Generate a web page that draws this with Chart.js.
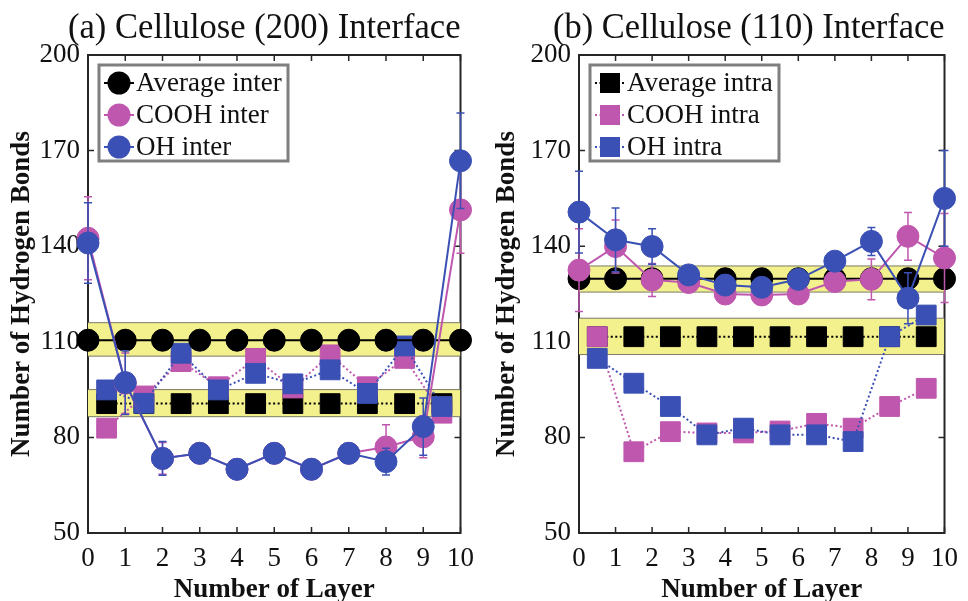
<!DOCTYPE html>
<html>
<head>
<meta charset="utf-8">
<script src="https://cdn.jsdelivr.net/npm/chart.js@4.4.1/dist/chart.umd.min.js"></script>
<style>
  body { margin: 0; background: #fff; }
  .wrap { display: flex; width: 968px; height: 601px; }
  canvas { display: block; }
</style>
</head>
<body>
<div class="wrap">
  <canvas id="chartA" width="484" height="601"></canvas>
  <canvas id="chartB" width="484" height="601"></canvas>
</div>
<script>
// x positions: circles sit on layers, squares between layers
const layers = [0, 1, 2, 3, 4, 5, 6, 7, 8, 9, 10];
const halfLayers = [0.5, 1.5, 2.5, 3.5, 4.5, 5.5, 6.5, 7.5, 8.5, 9.5];
const yTicks = [50, 80, 110, 140, 170, 200];

// (a) Cellulose (200)
const avgInterA = [110.5, 110.5, 110.5, 110.5, 110.5, 110.5, 110.5, 110.5, 110.5, 110.5, 110.5];
const avgIntraA = [90.6, 90.6, 90.6, 90.6, 90.6, 90.6, 90.6, 90.6, 90.6, 90.6];
const bandInterA = [105.5, 116];
const bandIntraA = [86.5, 95];
const coohInterA = [142.5, 97, 73.4, 75, 70, 75, 70, 75, 77, 80.2, 151.4];
const coohInterErrA = [13, 9.5, 5, 1, 1, 1, 1, 1, 7, 6.6, 13.6];
const ohInterA = [141, 97.2, 73.4, 75, 70, 75, 70, 75, 72.4, 83.4, 166.8];
const ohInterErrA = [12.6, 10, 5.3, 1, 1, 1, 1, 1, 4.2, 9, 15];
const coohIntraA = [82.9, 93, 103.8, 95.9, 104.8, 95.5, 105.9, 95.9, 104.8, 87.6];
const ohIntraA = [94.9, 90.7, 106.4, 94.9, 100.1, 96.8, 101.2, 93.8, 108.7, 89.7];

// (b) Cellulose (110)
const avgInterB = [129.8, 129.8, 129.8, 129.8, 129.8, 129.8, 129.8, 129.8, 129.8, 129.8, 129.8];
const avgIntraB = [111.6, 111.6, 111.6, 111.6, 111.6, 111.6, 111.6, 111.6, 111.6, 111.6];
const bandInterB = [125.6, 133.8];
const bandIntraB = [106, 117.4];
const coohInterB = [132.5, 139.9, 129.4, 128.6, 125, 124.7, 125, 128.9, 129.6, 143.1, 136.3];
const coohInterErrB = [13, 8.3, 5.2, 1, 1, 1, 1, 1, 6.4, 7.5, 14];
const ohInterB = [150.7, 142, 139.9, 131, 127.8, 127.1, 129.6, 135.3, 141.5, 123.7, 155];
const ohInterErrB = [12.8, 10, 5.6, 1, 1, 1, 1, 1.5, 4.4, 8, 15];
const coohIntraB = [111.6, 75.5, 81.8, 81.4, 81.4, 82, 84.4, 82.9, 89.7, 95.4];
const ohIntraB = [104.8, 97, 89.7, 80.8, 82.9, 80.8, 80.8, 78.7, 111.6, 118.4];

const PINK = '#bf57ae';
const BLUE = '#3b50b4';
const BLACK = '#000000';
const FONT = "'Liberation Serif', 'Times New Roman', serif";

const pts = (xs, ys) => xs.map((x, i) => ({ x: x, y: ys[i] }));

function series(label, xs, ys, color, shape, dotted, order, errors) {
    return {
        label: label,
        data: pts(xs, ys),
        errors: errors || null,
        inLegend: true,
        borderColor: color,
        backgroundColor: color,
        borderWidth: 2,
        borderDash: dotted ? [2, 2.5] : [],
        pointStyle: shape,
        pointRadius: shape === 'rect' ? 14 : 11,
        pointBorderWidth: 1,
        pointBorderColor: color,
        pointBackgroundColor: color,
        tension: 0,
        fill: false,
        clip: false,
        order: order
    };
}

// band = two edge lines, the upper one filled down to the lower one
function band(lims) {
    const edge = {
        borderColor: '#7a7a66',
        borderWidth: 1,
        pointRadius: 0,
        tension: 0,
        order: 20
    };
    return [
        Object.assign({ data: pts([0, 10], [lims[0], lims[0]]), fill: false }, edge),
        Object.assign({ data: pts([0, 10], [lims[1], lims[1]]), fill: '-1', backgroundColor: '#f3f08e' }, edge)
    ];
}

// vertical error bars, drawn just before the dataset so markers sit on top
const errorBars = {
    id: 'errorBars',
    beforeDatasetDraw(chart, args) {
        const ds = chart.data.datasets[args.index];
        if (!ds.errors) return;
        const ctx = chart.ctx, xs = chart.scales.x, ys = chart.scales.y;
        ctx.save();
        ctx.strokeStyle = ds.borderColor;
        ctx.lineWidth = 1.5;
        ds.data.forEach((p, i) => {
            const e = ds.errors[i];
            if (!e) return;
            const px = xs.getPixelForValue(p.x);
            const top = ys.getPixelForValue(p.y + e);
            const bot = ys.getPixelForValue(p.y - e);
            ctx.beginPath();
            ctx.moveTo(px, top); ctx.lineTo(px, bot);
            ctx.moveTo(px - 4, top); ctx.lineTo(px + 4, top);
            ctx.moveTo(px - 4, bot); ctx.lineTo(px + 4, bot);
            ctx.stroke();
        });
        ctx.restore();
    }
};

// top/right frame and inward tick marks like the original figure
const frame = {
    id: 'frame',
    beforeDatasetsDraw(chart) {
        const { ctx, chartArea: a, scales: { x, y } } = chart;
        ctx.save();
        ctx.strokeStyle = '#262626';
        ctx.lineWidth = 2;
        ctx.strokeRect(a.left, a.top, a.right - a.left, a.bottom - a.top);
        ctx.lineWidth = 1.5;
        ctx.beginPath();
        x.ticks.forEach(t => {
            const px = x.getPixelForValue(t.value);
            ctx.moveTo(px, a.bottom); ctx.lineTo(px, a.bottom - 6);
            ctx.moveTo(px, a.top); ctx.lineTo(px, a.top + 6);
        });
        y.ticks.forEach(t => {
            const py = y.getPixelForValue(t.value);
            ctx.moveTo(a.left, py); ctx.lineTo(a.left + 6, py);
            ctx.moveTo(a.right, py); ctx.lineTo(a.right - 6, py);
        });
        ctx.stroke();
        ctx.restore();
    }
};

// the figure's titles sit a little left of the plot centre
const titleShift = {
    id: 'titleShift',
    afterLayout(chart, args, opts) {
        chart.titleBlock.left -= 2 * opts.dx;
    }
};

// boxed legend in the top-left corner of the plot
const boxLegend = {
    id: 'boxLegend',
    afterDraw(chart) {
        const { ctx, chartArea: a } = chart;
        const items = chart.data.datasets.filter(d => d.inLegend)
            .sort((p, q) => q.order - p.order);
        const bx = a.left + 11, by = a.top + 10, bw = 189, bh = 96;
        ctx.save();
        ctx.fillStyle = '#fff';
        ctx.fillRect(bx, by, bw, bh);
        ctx.lineWidth = 3;
        ctx.strokeStyle = '#7f7f7f';
        ctx.strokeRect(bx, by, bw, bh);
        items.forEach((d, i) => {
            const cy = by + 18 + i * 32;
            const cx = bx + 20;
            ctx.strokeStyle = d.borderColor;
            ctx.lineWidth = 2;
            ctx.setLineDash(d.borderDash);
            ctx.beginPath();
            ctx.moveTo(bx + 5, cy); ctx.lineTo(bx + 35, cy);
            ctx.stroke();
            ctx.setLineDash([]);
            ctx.fillStyle = d.backgroundColor;
            ctx.beginPath();
            if (d.pointStyle === 'rect') ctx.rect(cx - 10, cy - 10, 20, 20);
            else ctx.arc(cx, cy, 11.5, 0, Math.PI * 2);
            ctx.fill();
            ctx.fillStyle = '#111';
            ctx.font = '27px ' + FONT;
            ctx.textBaseline = 'middle';
            ctx.textAlign = 'left';
            ctx.fillText(d.label, bx + 37, cy + 1);
        });
        ctx.restore();
    }
};

function makeChart(id, title, yWidth, padRight, yTitlePad, dx, sets) {
    return new Chart(document.getElementById(id), {
        type: 'line',
        data: { datasets: sets },
        plugins: [errorBars, frame, titleShift, boxLegend],
        options: {
            responsive: false,
            animation: false,
            events: [],
            layout: { padding: { left: 0, right: padRight, top: 0, bottom: 0 } },
            plugins: {
                legend: { display: false },
                tooltip: { enabled: false },
                titleShift: { dx: dx },
                title: {
                    display: true,
                    text: title,
                    fullSize: false,
                    color: '#111',
                    font: { family: FONT, size: 36, weight: 'normal', lineHeight: 1.15 },
                    padding: { top: 8, bottom: 5.6 }
                }
            },
            scales: {
                x: {
                    type: 'linear',
                    min: 0,
                    max: 10,
                    afterBuildTicks: s => { s.ticks = layers.map(v => ({ value: v })); },
                    afterFit: s => { s.height = 68; },
                    grid: { display: false, drawTicks: false },
                    border: { display: false },
                    ticks: { color: '#111', padding: 10, font: { family: FONT, size: 27 } },
                    title: {
                        display: true,
                        text: 'Number of Layer',
                        color: '#111',
                        padding: { top: 0, bottom: 0 },
                        font: { family: FONT, size: 27, weight: 'bold', lineHeight: 0.8 }
                    }
                },
                y: {
                    min: 50,
                    max: 200,
                    afterBuildTicks: s => { s.ticks = yTicks.map(v => ({ value: v })); },
                    afterFit: s => { s.width = yWidth; },
                    grid: { display: false, drawTicks: false },
                    border: { display: false },
                    ticks: { color: '#111', padding: 8, font: { family: FONT, size: 27 } },
                    title: {
                        display: true,
                        text: 'Number of Hydrogen Bonds',
                        color: '#111',
                        padding: { top: yTitlePad, bottom: 0 },
                        font: { family: FONT, size: 27, weight: 'bold', lineHeight: 1 }
                    }
                }
            }
        }
    });
}

makeChart('chartA', '(a) Cellulose (200) Interface', 88, 22, 9, 10, [
    series('Average inter', layers, avgInterA, BLACK, 'circle', false, 9),
    series('COOH inter', layers, coohInterA, PINK, 'circle', false, 8, coohInterErrA),
    series('OH inter', layers, ohInterA, BLUE, 'circle', false, 7, ohInterErrA),
    Object.assign(series('Average intra', halfLayers, avgIntraA, BLACK, 'rect', true, 12), { inLegend: false }),
    Object.assign(series('COOH intra', halfLayers, coohIntraA, PINK, 'rect', true, 11), { inLegend: false }),
    Object.assign(series('OH intra', halfLayers, ohIntraA, BLUE, 'rect', true, 10), { inLegend: false })
].concat(band(bandInterA), band(bandIntraA)));

makeChart('chartB', '(b) Cellulose (110) Interface', 95, 13, 10, 13, [
    Object.assign(series('Average inter', layers, avgInterB, BLACK, 'circle', false, 9), { inLegend: false }),
    Object.assign(series('COOH inter', layers, coohInterB, PINK, 'circle', false, 8, coohInterErrB), { inLegend: false }),
    Object.assign(series('OH inter', layers, ohInterB, BLUE, 'circle', false, 7, ohInterErrB), { inLegend: false }),
    series('Average intra', halfLayers, avgIntraB, BLACK, 'rect', true, 12),
    series('COOH intra', halfLayers, coohIntraB, PINK, 'rect', true, 11),
    series('OH intra', halfLayers, ohIntraB, BLUE, 'rect', true, 10)
].concat(band(bandInterB), band(bandIntraB)));
</script>
</body>
</html>
